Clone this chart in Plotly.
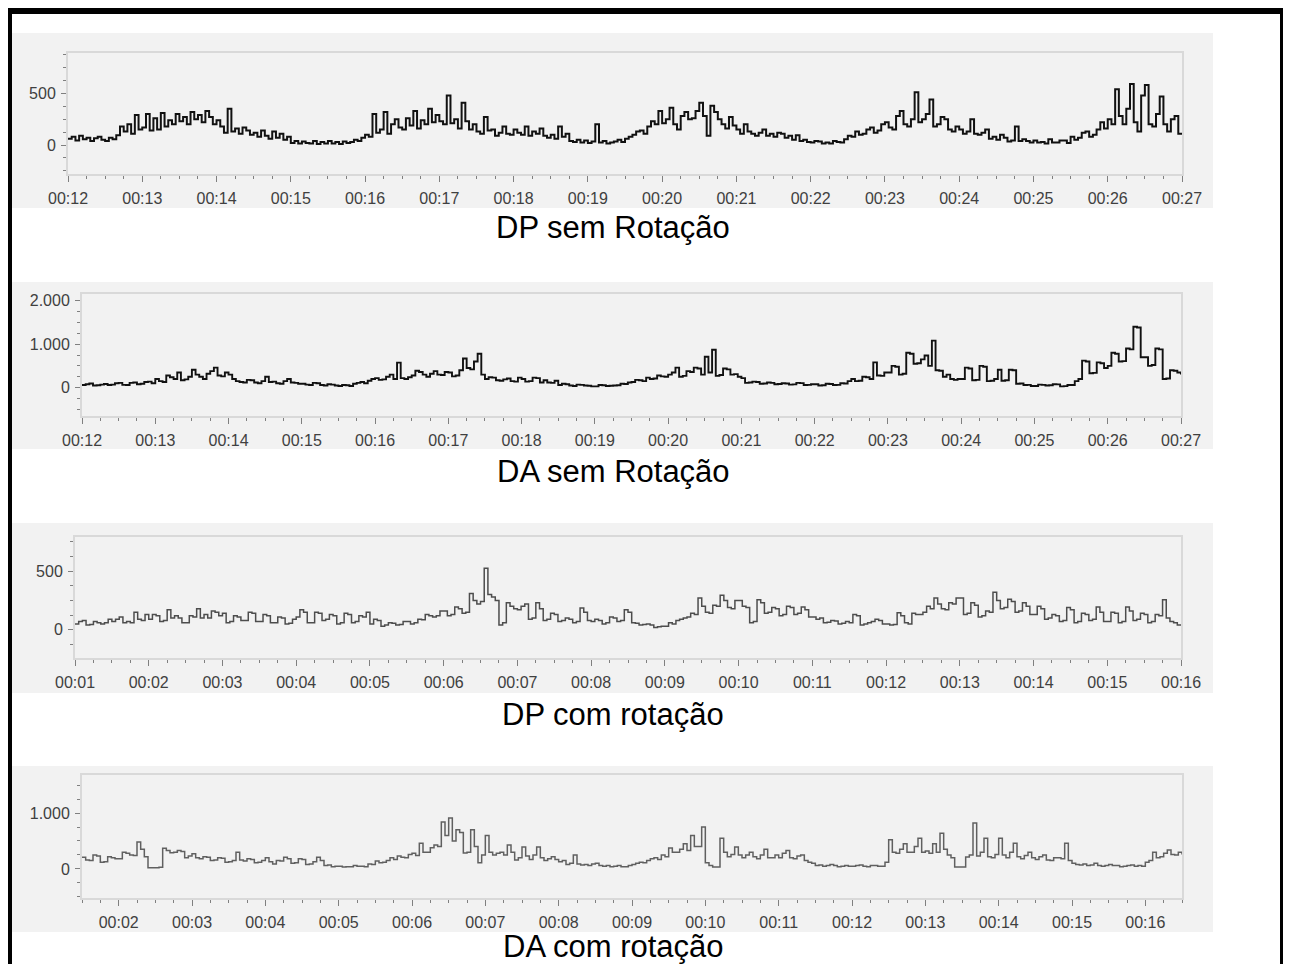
import numpy as np
import plotly.graph_objects as go

W, H = 1291, 964

# ---------------- data (0.05-min samples) ----------------
dp_sem_start = 12.0
dp_sem = [
    60, 80, 45, 90, 55, 70, 40, 65, 80, 50,
    40, 70, 55, 95, 180, 130, 200, 110, 290, 150,
    170, 300, 140, 260, 150, 310, 180, 240, 200, 300,
    230, 270, 200, 320, 250, 290, 220, 330, 270, 200,
    240, 180, 120, 350, 130, 160, 110, 170, 140, 100,
    120, 80, 140, 90, 60, 130, 70, 110, 50, 80,
    20, 40, 15, 35, 20, 15, 40, 10, 30, 15,
    40, 15, 30, 10, 35, 20, 30, 50, 40, 70,
    100, 80, 300, 120, 150, 320, 110, 200, 250, 170,
    150, 260, 190, 330, 160, 240, 200, 350, 220, 290,
    230, 200, 480, 210, 250, 160, 410, 230, 150, 200,
    130, 110, 270, 140, 150, 90, 120, 180, 110, 100,
    150, 120, 100, 180, 90, 130, 110, 160, 90, 70,
    100, 60, 180, 80, 110, 40, 30, 50, 25, 45,
    20, 35, 200, 25, 40, 15, 25, 35, 50, 30,
    60, 80, 100, 130, 140, 110, 180, 230, 200, 330,
    210, 250, 360, 200, 150, 280, 320, 250, 260, 330,
    410, 280, 90, 380, 320, 250, 200, 160, 270, 190,
    150, 110, 200, 130, 110, 90, 120, 150, 90, 110,
    80, 120, 110, 70, 90, 50, 95, 40, 50, 30,
    25, 40, 35, 15, 25, 15, 40, 30, 25, 55,
    90, 80, 130, 100, 110, 150, 170, 120, 140, 200,
    220, 170, 150, 280, 330, 200, 180, 250, 510, 220,
    250, 300, 440, 180, 200, 270, 250, 150, 130, 180,
    150, 110, 130, 250, 110, 100, 120, 150, 60, 80,
    50, 100, 70, 35, 45, 180, 40, 55, 40, 25,
    45, 25, 30, 15, 55, 25, 25, 45, 45, 20,
    80, 50, 70, 120, 130, 80, 100, 150, 220, 160,
    250, 200, 540, 280, 200, 350, 590, 220, 130, 480,
    580, 200, 180, 300, 470, 200, 130, 250, 280, 110,
    100,
]

da_sem_start = 12.0
da_sem = [
    60, 80, 95, 50, 55, 70, 85, 60, 70, 100,
    110, 65, 60, 110, 120, 80, 90, 130, 140, 100,
    200, 150, 130, 280, 240, 200, 350, 170, 190, 250,
    410, 300, 250, 200, 320, 380, 460, 280, 260, 350,
    300, 200, 150, 130, 120, 180, 170, 120, 100, 150,
    250, 130, 140, 100, 90, 150, 200, 120, 110, 90,
    90, 70, 60, 110, 100, 60, 50, 80, 70, 50,
    40, 60, 55, 40, 90, 110, 130, 100, 160, 200,
    220, 180, 190, 250, 300, 200, 575, 220, 200, 240,
    280, 390, 360, 300, 250, 320, 380, 300, 290, 360,
    350, 260, 280, 400, 670, 450, 420, 600, 780, 300,
    200, 240, 230, 170, 160, 190, 210, 150, 140, 230,
    200, 140, 150, 230, 220, 120, 170, 120, 110, 160,
    60, 90, 80, 50, 40, 70, 65, 50, 45, 30,
    30, 60, 55, 40, 45, 50, 55, 90, 85, 120,
    130, 180, 170, 150, 230, 200, 210, 280, 260, 250,
    300, 350, 460, 250, 270, 380, 360, 460, 440, 300,
    710, 350, 870, 270, 290, 440, 420, 300, 310, 250,
    220, 110, 120, 140, 130, 90, 95, 120, 110, 80,
    85, 100, 95, 70, 75, 110, 105, 60, 65, 80,
    80, 50, 55, 90, 85, 60, 65, 100, 95, 150,
    200, 150, 160, 250, 240, 200, 580, 280, 270, 350,
    350, 500, 480, 300, 320, 800, 780, 550, 560, 650,
    740, 500, 1080, 400, 390, 250, 300, 200, 180, 200,
    200, 460, 440, 170, 180, 500, 480, 150, 160, 200,
    410, 160, 170, 410, 400, 90, 95, 60, 65, 40,
    40, 70, 65, 50, 55, 80, 75, 30, 35, 60,
    60, 150, 200, 620, 600, 330, 340, 580, 560, 450,
    500, 800, 780, 600, 610, 900, 880, 1400, 1380, 700,
    700, 500, 520, 900, 880, 200, 210, 400, 390, 350,
    300,
]

dp_com_start = 1.0
dp_com = [
    50, 70, 80, 40, 45, 70, 60, 50, 60, 90,
    70, 90, 110, 60, 70, 60, 150, 90, 80, 130,
    90, 130, 120, 70, 80, 170, 100, 120, 100, 60,
    60, 120, 110, 180, 100, 130, 100, 160, 150, 120,
    140, 60, 70, 120, 110, 80, 80, 150, 140, 70,
    70, 130, 120, 60, 60, 110, 100, 50, 55, 90,
    110, 170, 150, 60, 60, 150, 140, 80, 90, 130,
    120, 50, 60, 140, 130, 60, 70, 120, 110, 150,
    50, 90, 80, 30, 40, 60, 55, 40, 45, 70,
    70, 50, 60, 90, 85, 130, 120, 110, 120, 160,
    160, 120, 130, 195, 180, 140, 150, 310, 250, 220,
    240, 525, 300, 280, 250, 40, 60, 230, 200, 180,
    170, 200, 220, 90, 100, 230, 180, 80, 90, 140,
    130, 70, 80, 100, 90, 60, 70, 185, 150, 80,
    70, 90, 80, 50, 60, 110, 100, 70, 80, 170,
    150, 60, 55, 40, 45, 50, 40, 20, 25, 30,
    30, 60, 50, 80, 90, 100, 110, 140, 130, 270,
    200, 150, 140, 210, 200, 295, 250, 190, 180, 250,
    250, 200, 190, 60, 70, 255, 230, 140, 150, 190,
    180, 120, 130, 200, 190, 130, 140, 195, 170, 110,
    110, 90, 100, 60, 65, 80, 75, 50, 55, 70,
    60, 130, 120, 40, 50, 60, 70, 90, 80, 50,
    50, 40, 45, 145, 120, 60, 50, 140, 130, 130,
    150, 200, 180, 270, 220, 180, 170, 230, 220, 270,
    270, 130, 140, 230, 210, 110, 120, 160, 150, 320,
    250, 180, 190, 260, 240, 150, 160, 230, 200, 130,
    130, 200, 180, 90, 100, 130, 120, 70, 80, 190,
    170, 60, 70, 140, 130, 80, 90, 195, 150, 70,
    70, 150, 140, 60, 70, 195, 160, 80, 90, 140,
    130, 60, 70, 130, 120, 255, 100, 70, 60, 40,
    40,
]

da_com_start = 1.5
da_com = [
    210, 160, 150, 250, 230, 120, 130, 220, 200, 180,
    180, 300, 280, 250, 240, 480, 350, 220, 20, 20,
    20, 30, 370, 330, 290, 300, 330, 310, 200, 230,
    270, 200, 180, 220, 210, 150, 160, 200, 190, 120,
    130, 150, 300, 160, 140, 180, 170, 110, 120, 150,
    200, 130, 90, 150, 140, 210, 180, 100, 110, 180,
    170, 80, 90, 130, 210, 150, 60, 70, 40, 50,
    50, 35, 40, 40, 60, 50, 50, 40, 90, 80,
    140, 110, 120, 150, 200, 170, 230, 210, 200, 260,
    280, 240, 460, 300, 300, 380, 430, 400, 840, 600,
    910, 500, 700, 650, 285, 300, 700, 400, 110, 250,
    600, 300, 250, 280, 300, 250, 430, 300, 160, 200,
    390, 230, 170, 250, 390, 200, 150, 180, 220, 170,
    130, 150, 80, 100, 250, 90, 70, 80, 60, 90,
    100, 60, 50, 60, 40, 50, 60, 40, 40, 60,
    80, 100, 120, 110, 150, 180, 200, 170, 250, 220,
    375, 300, 300, 350, 450, 330, 600, 400, 400, 750,
    110, 60, 35, 35, 550, 300, 220, 260, 390, 250,
    200, 250, 300, 220, 180, 250, 350, 200, 200, 250,
    200, 280, 330, 200, 180, 230, 250, 150, 120, 100,
    60, 70, 50, 60, 80, 60, 40, 50, 60, 50,
    50, 60, 70, 50, 40, 60, 60, 50, 50, 120,
    520, 300, 280, 350, 450, 300, 300, 400, 550, 300,
    320, 280, 450, 300, 640, 350, 250, 200, 35, 35,
    35, 215, 250, 820, 230, 300, 550, 220, 200, 260,
    550, 250, 200, 300, 460, 220, 180, 240, 300, 200,
    170, 220, 250, 160, 150, 200, 200, 180, 460, 150,
    100, 80, 70, 90, 60, 70, 100, 60, 50, 60,
    80, 60, 60, 40, 50, 60, 70, 50, 60, 50,
    120, 150, 300, 200, 220, 280, 340, 260, 250, 300,
    260,
]

sample_step = 0.05

titles = ["DP sem Rotação", "DA sem Rotação", "DP com rotação", "DA com rotação"]

x_ticks_sem = list(range(12, 28))
x_labels_sem = ["00:12", "00:13", "00:14", "00:15", "00:16", "00:17", "00:18", "00:19",
                "00:20", "00:21", "00:22", "00:23", "00:24", "00:25", "00:26", "00:27"]
x_ticks_dp_com = list(range(1, 17))
x_labels_dp_com = ["00:01", "00:02", "00:03", "00:04", "00:05", "00:06", "00:07", "00:08",
                   "00:09", "00:10", "00:11", "00:12", "00:13", "00:14", "00:15", "00:16"]
x_ticks_da_com = list(range(2, 17))
x_labels_da_com = ["00:02", "00:03", "00:04", "00:05", "00:06", "00:07", "00:08",
                   "00:09", "00:10", "00:11", "00:12", "00:13", "00:14", "00:15", "00:16"]

y_ticks_500 = [0, 500]
y_labels_500 = ["0", "500"]
y_ticks_1000 = [0, 1000, 2000]
y_labels_1000 = ["0", "1.000", "2.000"]

# ---------------- layout helpers (page pixels -> paper fractions) ----------------
OFF = 8  # default body margin of the html page


def px_x(x):
    return (x - OFF) / W


def px_y(y):
    return 1 - (y - OFF) / H


panels = [
    dict(y=dp_sem, start=dp_sem_start, color="#111111", width=2.0,
         xdom=(68, 1182), ydom=(53, 174), xr=(12, 27), yr=(-280, 890),
         ydt=125, ytv=y_ticks_500, ytt=y_labels_500,
         xtv=x_ticks_sem, xtt=x_labels_sem, bg=(33, 208), title_y=228),
    dict(y=da_sem, start=da_sem_start, color="#111111", width=1.9,
         xdom=(82, 1181), ydom=(294, 416), xr=(12, 27), yr=(-650, 2150),
         ydt=250, ytv=y_ticks_1000, ytt=y_labels_1000,
         xtv=x_ticks_sem, xtt=x_labels_sem, bg=(282, 449), title_y=471),
    dict(y=dp_com, start=dp_com_start, color="#4d4d4d", width=1.5,
         xdom=(75, 1181), ydom=(537, 658), xr=(1, 16), yr=(-240, 790),
         ydt=125, ytv=y_ticks_500, ytt=y_labels_500,
         xtv=x_ticks_dp_com, xtt=x_labels_dp_com, bg=(523, 693), title_y=714),
    dict(y=da_com, start=da_com_start, color="#606060", width=1.5,
         xdom=(82, 1182), ydom=(775, 898), xr=(1.5, 16.5), yr=(-520, 1680),
         ydt=250, ytv=y_ticks_1000, ytt=y_labels_1000,
         xtv=x_ticks_da_com, xtt=x_labels_da_com, bg=(766, 932), title_y=946),
]

fig = go.Figure()
shapes = []
annotations = []
layout_axes = {}

tick_font = dict(family="Liberation Sans, Arial, sans-serif", size=16, color="#404040")

for i, p in enumerate(panels, start=1):
    xs = p["start"] + sample_step * np.arange(len(p["y"]))
    xa = "x" if i == 1 else f"x{i}"
    ya = "y" if i == 1 else f"y{i}"
    fig.add_trace(go.Scatter(
        x=xs, y=p["y"], mode="lines", line=dict(color=p["color"], width=p["width"], shape="hv"),
        xaxis=xa, yaxis=ya, showlegend=False, hoverinfo="skip"))

    shapes.append(dict(type="rect", xref="paper", yref="paper", layer="below",
                       x0=px_x(12), x1=px_x(1213), y0=px_y(p["bg"][1]), y1=px_y(p["bg"][0]),
                       fillcolor="#f2f2f2", line=dict(width=0)))
    annotations.append(dict(text=titles[i - 1], xref="paper", yref="paper",
                            x=px_x(613), y=px_y(p["title_y"]), xanchor="center", yanchor="middle",
                            showarrow=False,
                            font=dict(family="Liberation Sans, Arial, sans-serif", size=31, color="#000000")))

    xkey = "xaxis" if i == 1 else f"xaxis{i}"
    ykey = "yaxis" if i == 1 else f"yaxis{i}"
    layout_axes[xkey] = dict(
        domain=[px_x(p["xdom"][0]), px_x(p["xdom"][1])], anchor=ya, range=list(p["xr"]),
        tickmode="array", tickvals=p["xtv"], ticktext=p["xtt"],
        ticks="outside", ticklen=6, tickwidth=1, tickcolor="#808080",
        minor=dict(dtick=0.25, tick0=0, ticks="outside", ticklen=3, tickcolor="#808080", showgrid=False),
        showline=True, linecolor="#d9d9d9", linewidth=2, mirror=True, automargin=False,
        showgrid=False, zeroline=False, tickfont=tick_font, ticklabelstandoff=3,
    )
    layout_axes[ykey] = dict(
        domain=[px_y(p["ydom"][1]), px_y(p["ydom"][0])], anchor=xa, range=list(p["yr"]),
        tickmode="array", tickvals=p["ytv"], ticktext=p["ytt"],
        ticks="outside", ticklen=5, tickwidth=1, tickcolor="#808080",
        minor=dict(dtick=p["ydt"], tick0=0, ticks="outside", ticklen=3, tickcolor="#808080", showgrid=False),
        showline=True, linecolor="#d9d9d9", linewidth=2, mirror=True, automargin=False,
        showgrid=False, zeroline=False, tickfont=tick_font, ticklabelstandoff=2,
    )

# black outer frame (left, top, right)
shapes.append(dict(type="line", xref="paper", yref="paper", x0=px_x(9.5), x1=px_x(9.5),
                   y0=px_y(11), y1=-0.2, line=dict(color="#000000", width=5)))
shapes.append(dict(type="line", xref="paper", yref="paper", x0=px_x(7), x1=px_x(1285),
                   y0=px_y(11), y1=px_y(11), line=dict(color="#000000", width=6)))
shapes.append(dict(type="line", xref="paper", yref="paper", x0=px_x(1282.5), x1=px_x(1282.5),
                   y0=px_y(11), y1=-0.2, line=dict(color="#000000", width=5)))

fig.update_layout(
    width=W, height=H, margin=dict(l=0, r=0, t=0, b=0, autoexpand=False),
    paper_bgcolor="#ffffff", plot_bgcolor="#f2f2f2",
    shapes=shapes, annotations=annotations, showlegend=False,
    **layout_axes,
)

fig.write_html("out.html")
